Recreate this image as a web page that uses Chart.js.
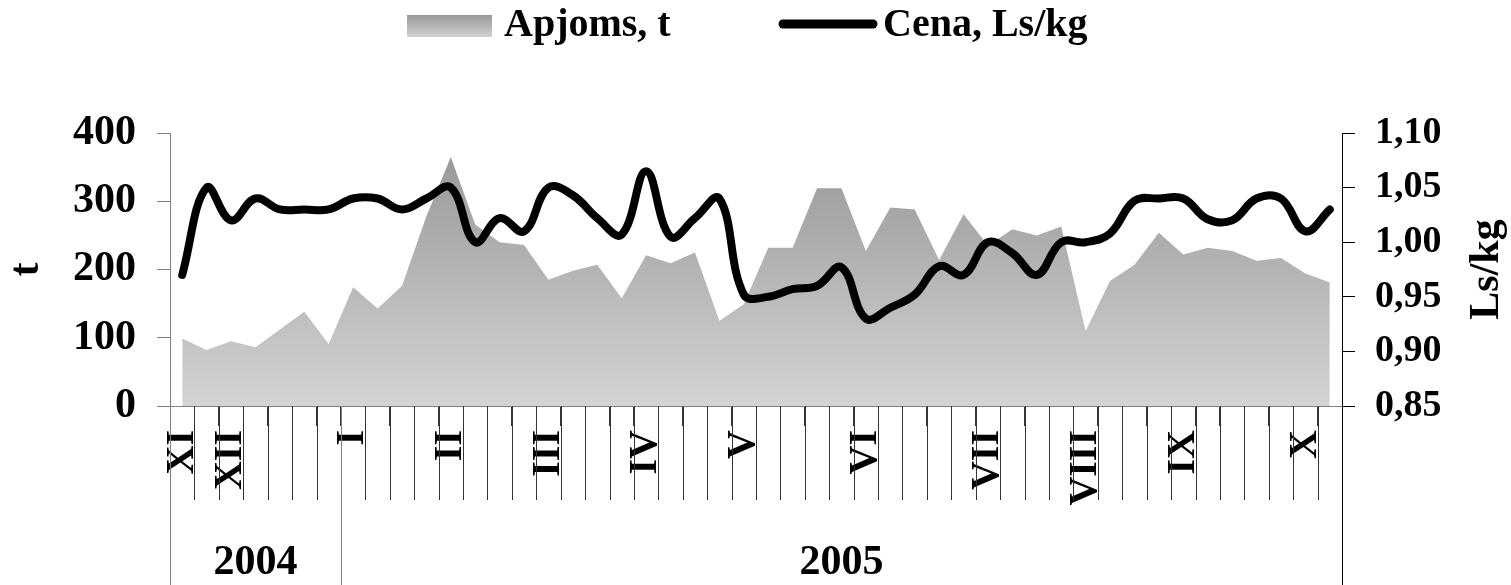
<!DOCTYPE html>
<html>
<head>
<meta charset="utf-8">
<script src="https://cdn.jsdelivr.net/npm/chart.js@4.4.1/dist/chart.umd.min.js"></script>
<style>
  html, body { margin: 0; padding: 0; background: #fff; }
  #wrap { width: 1511px; height: 585px; }
</style>
</head>
<body>
<div id="wrap"><canvas id="chart"></canvas></div>
<script>
// weekly data, XI 2004 - X 2005
const monthNames = ['XI', 'XII', 'I', 'II', 'III', 'IV', 'V', 'VI', 'VII', 'VIII', 'IX', 'X'];
const monthWeek = [0, 2, 7, 11, 15, 19, 23, 28, 33, 37, 41, 46];
const years = ['2004', '2005'];
const yearWeeks = [7, 41];

// Apjoms, t
const volume = [99, 82, 95, 86, 112, 138, 91, 174, 143, 176, 278, 365,
                266, 240, 236, 185, 198, 207, 158, 221, 209, 225, 125, 149,
                232, 232, 319, 319, 227, 291, 288, 214, 281, 235, 259, 250,
                263, 110, 183, 207, 254, 222, 232, 227, 213, 217, 194, 181];

// Cena, Ls/kg
const price = [0.970, 1.050, 1.020, 1.040, 1.030, 1.030, 1.030, 1.040, 1.040, 1.030, 1.040, 1.050,
               1.000, 1.022, 1.010, 1.050, 1.043, 1.022, 1.007, 1.065, 1.005, 1.022, 1.040, 0.952,
               0.950, 0.957, 0.960, 0.977, 0.930, 0.940, 0.952, 0.978, 0.970, 1.000, 0.990, 0.970,
               1.000, 1.000, 1.008, 1.038, 1.040, 1.040, 1.021, 1.020, 1.040, 1.040, 1.010, 1.030];

const weekLabels = volume.map((v, i) => {
    const k = monthWeek.indexOf(i);
    return k >= 0 ? monthNames[k] : '';
});

const serif = '"Liberation Serif", "Times New Roman", serif';

// legend, right axis title, week separators and year row
const extras = {
    id: 'extras',
    afterDraw(chart) {
        const ctx = chart.ctx;
        const x = chart.scales.x;
        const area = chart.chartArea;
        const step = x.getPixelForValue(1) - x.getPixelForValue(0);
        ctx.save();

        // week separators below the axis
        ctx.strokeStyle = '#333';
        ctx.lineWidth = 1;
        ctx.beginPath();
        for (let i = 1; i < weekLabels.length; i++) {
            const px = Math.round(x.getPixelForValue(i) - step / 2) + 0.5;
            ctx.moveTo(px, area.bottom);
            ctx.lineTo(px, area.bottom + 94);
        }
        ctx.stroke();

        // year groups
        let start = 0;
        ctx.font = 'bold 42px ' + serif;
        ctx.fillStyle = '#000';
        ctx.textAlign = 'center';
        ctx.textBaseline = 'alphabetic';
        years.forEach((yr, j) => {
            const left = x.getPixelForValue(start) - step / 2;
            const right = x.getPixelForValue(start + yearWeeks[j] - 1) + step / 2;
            ctx.fillText(yr, (left + right) / 2, chart.height - 11);
            start += yearWeeks[j];
        });
        start = 0;
        ctx.lineWidth = 1;
        for (let j = 0; j <= years.length; j++) {
            const px = j === 0 ? area.left : (j === years.length ? area.right :
                x.getPixelForValue(start) - step / 2);
            ctx.strokeStyle = j === years.length ? '#000' : '#808080';
            ctx.beginPath();
            ctx.moveTo(Math.round(px) + 0.5, area.bottom);
            ctx.lineTo(Math.round(px) + 0.5, chart.height);
            ctx.stroke();
            if (j < years.length) start += yearWeeks[j];
        }

        // right axis title, reads bottom to top
        ctx.save();
        ctx.translate(1487, (area.top + area.bottom) / 2);
        ctx.rotate(-Math.PI / 2);
        ctx.textBaseline = 'middle';
        ctx.fillText('Ls/kg', 0, 0);
        ctx.restore();

        // legend
        const sw = ctx.createLinearGradient(0, 15, 0, 37);
        sw.addColorStop(0, '#989898');
        sw.addColorStop(1, '#d2d2d2');
        ctx.fillStyle = sw;
        ctx.fillRect(407, 15, 85, 22);
        ctx.strokeStyle = '#000';
        ctx.lineWidth = 9;
        ctx.lineCap = 'round';
        ctx.beginPath();
        ctx.moveTo(783, 24);
        ctx.lineTo(873, 24);
        ctx.stroke();
        ctx.fillStyle = '#000';
        ctx.textAlign = 'left';
        ctx.font = 'bold 40px ' + serif;
        ctx.fillText('Apjoms, t', 504, 36);
        ctx.fillText('Cena, Ls/kg', 883, 36);

        ctx.restore();
    }
};

const ctx = document.getElementById('chart').getContext('2d');

new Chart(ctx, {
    type: 'line',
    data: {
        labels: weekLabels,
        datasets: [{
            label: 'Cena, Ls/kg',
            data: price,
            yAxisID: 'y2',
            order: 0,
            borderColor: '#000',
            borderWidth: 8,
            borderCapStyle: 'round',
            borderJoinStyle: 'round',
            tension: 0.4,
            pointRadius: 0,
            fill: false
        }, {
            label: 'Apjoms, t',
            data: volume,
            yAxisID: 'y',
            order: 1,
            borderWidth: 0,
            pointRadius: 0,
            tension: 0,
            fill: 'origin',
            backgroundColor: (c) => {
                const a = c.chart.chartArea;
                if (!a) return '#bbb';
                const g = c.chart.ctx.createLinearGradient(0, a.top, 0, a.bottom);
                g.addColorStop(0, '#949494');
                g.addColorStop(1, '#d4d4d4');
                return g;
            }
        }]
    },
    options: {
        responsive: true,
        maintainAspectRatio: false,
        animation: false,
        layout: { padding: { top: 133, left: 0, right: 0, bottom: 0 } },
        plugins: {
            legend: { display: false },
            tooltip: { enabled: false }
        },
        scales: {
            x: {
                type: 'category',
                offset: true,
                afterFit: (s) => { s.height = 179; },
                grid: {
                    display: true,
                    offset: true,
                    drawOnChartArea: false,
                    drawTicks: true,
                    tickLength: 20,
                    color: '#333'
                },
                border: { display: true, color: '#808080', width: 1 },
                ticks: {
                    autoSkip: false,
                    maxRotation: 90,
                    minRotation: 90,
                    padding: 4,
                    color: '#000',
                    font: { family: serif, size: 40, weight: 'bold' }
                }
            },
            y: {
                position: 'left',
                min: 0,
                max: 400,
                afterFit: (s) => { s.width = 170; },
                grid: { drawOnChartArea: false, tickLength: 13, color: '#808080' },
                border: { display: true, color: '#808080', width: 1 },
                title: {
                    display: true,
                    text: 't',
                    color: '#000',
                    padding: { top: 2, bottom: 0 },
                    font: { family: serif, size: 42, weight: 'bold' }
                },
                ticks: {
                    stepSize: 100,
                    padding: 21,
                    color: '#000',
                    font: { family: serif, size: 42, weight: 'bold' }
                }
            },
            y2: {
                position: 'right',
                min: 0.85,
                max: 1.10,
                afterFit: (s) => { s.width = 169; },
                grid: { drawOnChartArea: false, tickLength: 13, color: '#000' },
                border: { display: true, color: '#000', width: 1 },
                ticks: {
                    stepSize: 0.05,
                    padding: 20,
                    color: '#000',
                    font: { family: serif, size: 38, weight: 'bold' },
                    callback: (v) => v.toFixed(2).replace('.', ',')
                }
            }
        }
    },
    plugins: [extras]
});
</script>
</body>
</html>
